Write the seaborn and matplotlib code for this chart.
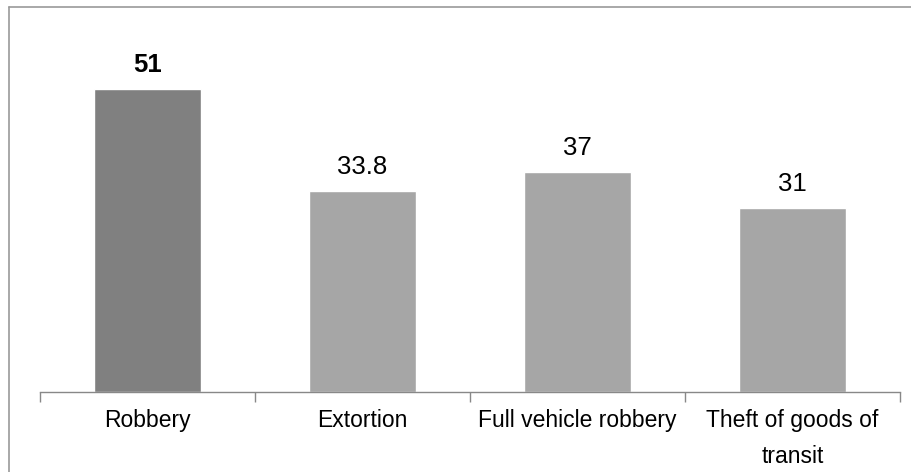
import numpy as np
import matplotlib.pyplot as plt
import pandas as pd
import seaborn as sns
from matplotlib.lines import Line2D

sns.set_style('white')
plt.rcParams['font.family'] = ['Liberation Sans', 'DejaVu Sans']
plt.rcParams['text.color'] = 'black'
plt.rcParams['xtick.color'] = 'black'

categories = ['Robbery', 'Extortion', 'Full vehicle robbery', 'Theft of goods of\ntransit']
values = [51, 33.8, 37, 31]
value_labels = ['51', '33.8', '37', '31']
bar_colors = ['#808080', '#a6a6a6', '#a6a6a6', '#a6a6a6']

df = pd.DataFrame({'category': categories, 'value': values})

fig = plt.figure(figsize=(9.11, 4.72), dpi=100)
ax = fig.add_axes([40 / 911, 80 / 472, 860 / 911, 362 / 472])

sns.barplot(data=df, x='category', y='value', hue='category', palette=bar_colors,
            width=0.5, legend=False, ax=ax, saturation=1)

ax.set_ylim(0, 61)
ax.set_xlim(-0.5, len(categories) - 0.5)
ax.set_xlabel('')
ax.set_ylabel('')
ax.set_yticks([])

# value labels
for i, cont in enumerate(ax.containers):
    lbl = ax.bar_label(cont, labels=[value_labels[i]], padding=9, fontsize=18.5, color='black')
    if i == 0:
        for t in lbl:
            t.set_fontweight('bold')

for s in ['left', 'right', 'top']:
    ax.spines[s].set_visible(False)
ax.spines['bottom'].set_color('#888888')
ax.spines['bottom'].set_linewidth(1)

ax.set_xticks(range(len(categories)))
ax.set_xticklabels(categories, fontsize=16.5, linespacing=1.75, color='black')
ax.tick_params(axis='x', which='major', length=0, pad=12)
ax.set_xticks(np.arange(-0.5, len(categories)), minor=True)
ax.tick_params(axis='x', which='minor', length=7, color='#888888', width=1, direction='out')
ax.xaxis.set_tick_params(which='minor', bottom=True)

# outer frame
fig.add_artist(Line2D([9 / 911, 9 / 911], [0, 1 - 7 / 472], color='#999999', lw=1.2,
                      transform=fig.transFigure))
fig.add_artist(Line2D([9 / 911, 1], [1 - 7 / 472, 1 - 7 / 472], color='#999999', lw=1.2,
                      transform=fig.transFigure))

fig.savefig('out.png', dpi=100)
